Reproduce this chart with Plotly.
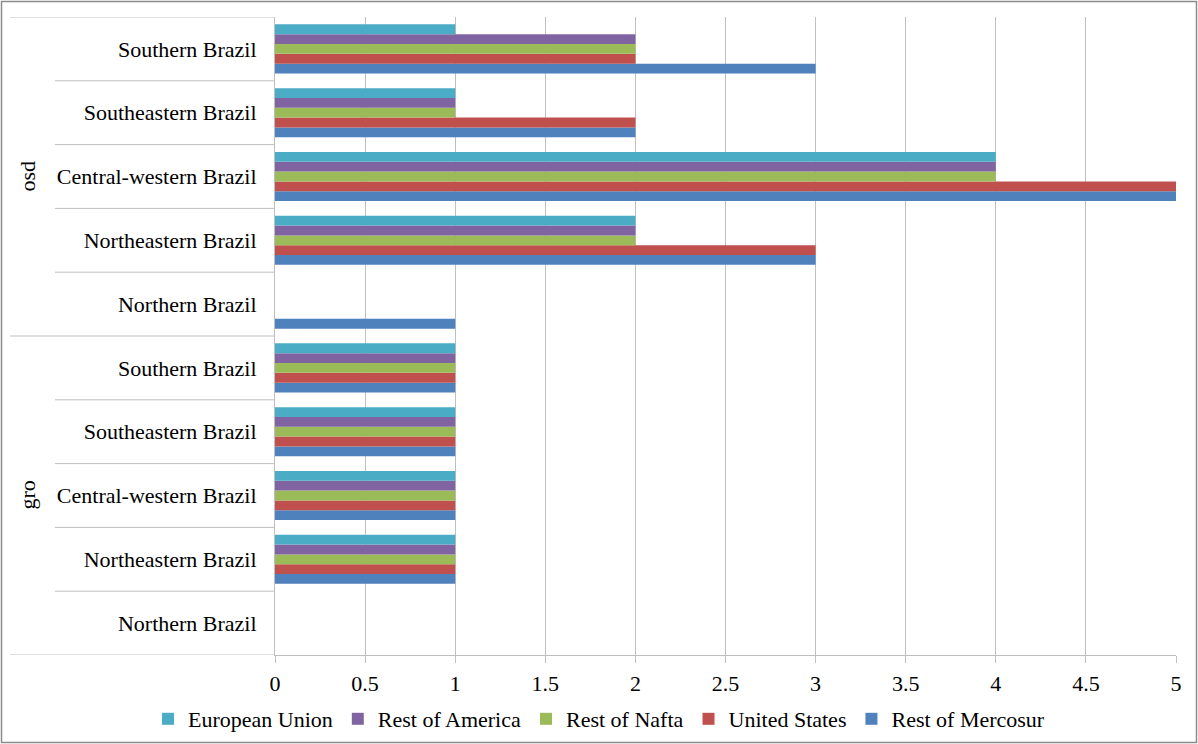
import plotly.graph_objects as go

# ---- data ----
groups = ["gro"] * 5 + ["osd"] * 5
regions = ["Northern Brazil", "Northeastern Brazil", "Central-western Brazil",
           "Southeastern Brazil", "Southern Brazil"] * 2
series_names = ["Rest of Mercosur", "United States", "Rest of Nafta",
                "Rest of America", "European Union"]
rest_of_mercosur = [0, 1, 1, 1, 1, 1, 3, 5, 2, 3]
united_states = [0, 1, 1, 1, 1, 0, 3, 5, 2, 2]
rest_of_nafta = [0, 1, 1, 1, 1, 0, 2, 4, 1, 2]
rest_of_america = [0, 1, 1, 1, 1, 0, 2, 4, 1, 2]
european_union = [0, 1, 1, 1, 1, 0, 2, 4, 1, 1]
series_values = [rest_of_mercosur, united_states, rest_of_nafta,
                 rest_of_america, european_union]
colors = ["#4F81BD", "#C0504D", "#9BBB59", "#8064A2", "#4BACC6"]
x_ticks = [0, 0.5, 1, 1.5, 2, 2.5, 3, 3.5, 4, 4.5, 5]
x_ticklabels = ["0", "0.5", "1", "1.5", "2", "2.5", "3", "3.5", "4", "4.5", "5"]

# ---- layout constants ----
W, H = 1198, 744
ML, MR, MT, MB = 275, 22, 17, 89
PW, PH = W - ML - MR, H - MT - MB
FONT = "Liberation Serif, Times New Roman, serif"
FS = 22
GRID = "#BFBFBF"

def px_x(px):
    return (px - ML) / PW

def px_y(py):
    return (H - MB - py) / PH

ypos = list(range(len(regions)))

fig = go.Figure()
for name, vals, col in zip(series_names, series_values, colors):
    fig.add_trace(go.Bar(
        y=ypos, x=vals, name=name, orientation="h",
        marker=dict(color=col, line=dict(width=0)),
    ))

shapes = []
n = len(regions)
for k in range(n + 1):
    yb = k - 0.5
    is_group_edge = (k == 0 or k == n or groups[k - 1] != groups[min(k, n - 1)])
    x0 = px_x(10) if is_group_edge else px_x(55)
    shapes.append(dict(type="line", xref="paper", yref="y", x0=x0, x1=0,
                       y0=yb, y1=yb, line=dict(color=GRID, width=1)))
shapes.append(dict(type="rect", xref="paper", yref="paper",
                   x0=px_x(1.5), x1=px_x(1196.5), y0=px_y(742.5), y1=px_y(1.5),
                   line=dict(color="#8C8C8C", width=1.5), layer="above"))

annotations = []
uniq = []
for g in groups:
    if g not in uniq:
        uniq.append(g)
for g in uniq:
    idx = [i for i, gg in enumerate(groups) if gg == g]
    annotations.append(dict(text=g, xref="paper", yref="y", x=px_x(27),
                            y=(idx[0] + idx[-1]) / 2, showarrow=False,
                            textangle=-90, xanchor="center", yanchor="middle",
                            font=dict(family=FONT, size=FS, color="#000000")))

fig.update_layout(
    width=W, height=H,
    margin=dict(l=ML, r=MR, t=MT, b=MB, pad=0, autoexpand=False),
    barmode="group", bargap=0.23, bargroupgap=0,
    plot_bgcolor="white", paper_bgcolor="white",
    font=dict(family=FONT, size=FS, color="#000000"),
    shapes=shapes, annotations=annotations,
    legend=dict(orientation="h", traceorder="reversed",
                xref="container", yref="container",
                x=0.5, xanchor="center", y=1 - 719 / H, yanchor="middle",
                font=dict(family=FONT, size=FS), itemwidth=30,
                bgcolor="rgba(0,0,0,0)", tracegroupgap=0),
    xaxis=dict(range=[0, 5], tickvals=x_ticks, ticktext=x_ticklabels,
               showgrid=True, gridcolor=GRID, gridwidth=1,
               showline=True, linecolor=GRID, linewidth=1,
               ticks="outside", ticklen=7, tickcolor=GRID,
               ticklabelstandoff=2,
               zeroline=False, tickfont=dict(family=FONT, size=FS)),
    yaxis=dict(range=[-0.5, n - 0.5], tickvals=ypos, ticktext=regions,
               showgrid=False, zeroline=False,
               showline=True, linecolor=GRID, linewidth=1,
               ticks="", ticklabelstandoff=13,
               tickfont=dict(family=FONT, size=FS)),
)

fig.write_html("out.html")
